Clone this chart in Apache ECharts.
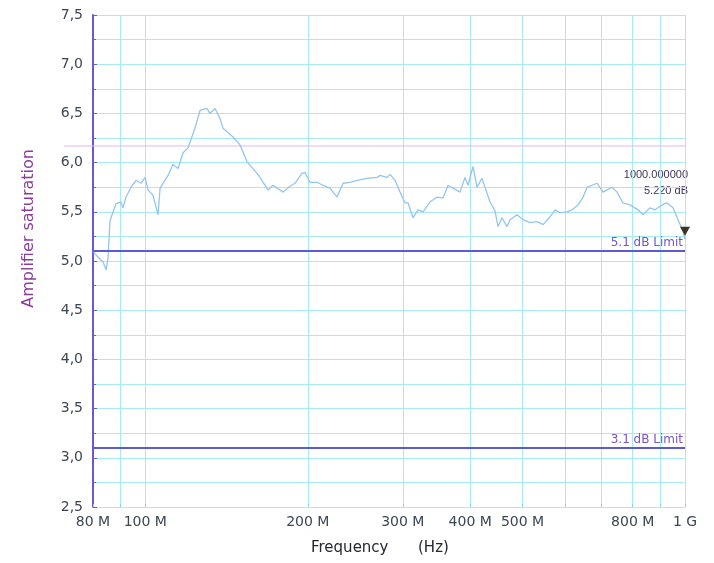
<!DOCTYPE html>
<html>
<head>
<meta charset="utf-8">
<script src="https://cdn.jsdelivr.net/npm/echarts@6/dist/echarts.min.js"></script>
<style>
  html, body { margin: 0; padding: 0; background: #fff; }
  #chart { width: 714px; height: 563px; }
</style>
</head>
<body>
<div id="chart"></div>
<script>
// frequency in MHz
var freqMHz = [
    80, 81.7, 83.5, 84.6, 85.3, 86.0, 86.4, 88.2, 90.1, 90.9, 92.1, 94.1, 96.1, 98.2, 99.9,
    101.2, 103.3, 105.6, 106.5, 110.2, 112.5, 115.0, 117.5, 120.0, 123.6, 126.3, 130.1, 131.8,
    134.6, 137.5, 139.3, 145.4, 149.8, 154.3, 161.1, 163.1, 168.8, 172.4, 180.0, 185.4, 189.4,
    195.1, 197.7, 201.9, 208.0, 213.5, 219.9, 226.6, 232.5, 239.6, 246.8, 257.6, 268.8, 272.2,
    280.5, 284.1, 290.2, 296.5, 302.9, 306.8, 313.4, 320.2, 327.1, 337.0, 347.2, 356.2, 363.9,
    371.6, 382.9, 391.2, 396.2, 404.8, 411.7, 420.6, 435.2, 444.6, 450.3, 458.1, 468.0, 474.1,
    488.4, 501.1, 516.3, 532.0, 545.8, 562.3, 574.5, 586.8, 604.7, 617.7, 633.8, 647.4, 658.6,
    672.8, 687.3, 704.8, 732.4, 748.2, 767.5, 790.9, 818.2, 835.9, 861.3, 879.8, 906.6, 926.2,
    950.2, 970.7, 991.7, 1000
];
var saturation = [
    5.10, 5.04, 4.99, 4.91, 5.03, 5.40, 5.44, 5.58, 5.60, 5.54, 5.65, 5.75, 5.82, 5.79, 5.85,
    5.72, 5.67, 5.47, 5.74, 5.87, 5.98, 5.94, 6.10, 6.15, 6.35, 6.53, 6.55, 6.50,
    6.55, 6.45, 6.35, 6.26, 6.18, 6.01, 5.89, 5.85, 5.72, 5.77, 5.70, 5.76, 5.79,
    5.89, 5.90, 5.80, 5.80, 5.77, 5.74, 5.65, 5.79, 5.80, 5.82, 5.84, 5.85, 5.87,
    5.85, 5.88, 5.82, 5.70, 5.59, 5.59, 5.44, 5.52, 5.50, 5.60, 5.65, 5.64, 5.77,
    5.74, 5.70, 5.85, 5.77, 5.96, 5.75, 5.84, 5.60, 5.51, 5.35, 5.44, 5.35, 5.42,
    5.47, 5.42, 5.39, 5.40, 5.37, 5.45, 5.52, 5.49, 5.50, 5.52, 5.57, 5.65, 5.75,
    5.77, 5.79, 5.70, 5.75, 5.70, 5.59, 5.57, 5.52, 5.47, 5.54, 5.52, 5.57, 5.59,
    5.54, 5.42, 5.30, 5.22
];
var gridFreqs = [80, 90, 100, 200, 300, 400, 500, 600, 700, 800, 900, 1000];
var labelFreqs = [80, 100, 200, 300, 400, 500, 800, 1000];
var limitValues = [5.1, 3.1];
var limitNames = ['5.1 dB Limit', '3.1 dB Limit'];
var markerFreq = 1000;
var markerValue = 5.22;
var markerText = ['1000.000000', '5.220 dB'];

var gridColor = '#a6eaf4';
var fontName = 'DejaVu Sans, Verdana, sans-serif';
var traceData = [];
for (var i = 0; i < freqMHz.length; i++) {
    traceData.push([freqMHz[i], saturation[i]]);
}

var dom = document.getElementById('chart');
var myChart = echarts.init(dom);
var option = null;
option = {
    animation: false,
    backgroundColor: '#fff',
    grid: {
        left: 93,
        right: 29,
        top: 15,
        bottom: 56
    },
    xAxis: {
        type: 'log',
        logBase: 10,
        min: 80,
        max: 1000,
        axisLine: {
            show: true,
            lineStyle: { color: gridColor, width: 1 }
        },
        axisTick: {
            show: true,
            inside: true,
            length: 3,
            customValues: gridFreqs,
            lineStyle: { color: '#7fd8ea' }
        },
        axisLabel: {
            customValues: labelFreqs,
            margin: 8,
            color: '#3c4652',
            fontFamily: fontName,
            fontSize: 14,
            formatter: function (v) {
                var r = Math.round(v);
                return r >= 1000 ? (r / 1000) + ' G' : r + ' M';
            }
        },
        splitLine: {
            show: true,
            lineStyle: { color: gridColor, width: 1 }
        },
        minorTick: { show: false },
        minorSplitLine: { show: false }
    },
    yAxis: {
        type: 'value',
        min: 2.5,
        max: 7.5,
        interval: 0.5,
        axisLine: {
            show: true,
            lineStyle: { color: '#6a5ad6', width: 2 }
        },
        axisTick: {
            show: true,
            inside: true,
            length: 4,
            lineStyle: { color: '#6a5ad6' }
        },
        minorTick: {
            show: true,
            splitNumber: 2,
            length: 3,
            lineStyle: { color: '#6a5ad6' }
        },
        axisLabel: {
            margin: 10,
            color: '#3c4652',
            fontFamily: fontName,
            fontSize: 14,
            formatter: function (v) {
                return v.toFixed(1).replace('.', ',');
            }
        },
        splitLine: {
            show: true,
            lineStyle: { color: gridColor, width: 1 }
        },
        minorSplitLine: {
            show: true,
            lineStyle: { color: gridColor, width: 1 }
        }
    },
    graphic: [
        {
            type: 'line',
            silent: true,
            z: 1,
            shape: { x1: 64, y1: 146, x2: 685, y2: 146 },
            style: { stroke: '#e6b4ee', lineWidth: 1 }
        },
        {
            type: 'text',
            left: 21,
            top: 149,
            rotation: Math.PI / 2,
            style: {
                text: 'Amplifier saturation',
                fill: '#8a3c9a',
                font: '16px ' + fontName
            }
        },
        {
            type: 'text',
            left: 311,
            top: 541,
            style: {
                text: 'Frequency',
                fill: '#202830',
                font: '15px ' + fontName
            }
        },
        {
            type: 'text',
            left: 418,
            top: 541,
            style: {
                text: '(Hz)',
                fill: '#202830',
                font: '15px ' + fontName
            }
        },
        {
            type: 'text',
            right: 26,
            top: 169,
            style: {
                text: markerText[0],
                fill: '#3e3258',
                font: '11px Liberation Sans, Arial, sans-serif'
            }
        },
        {
            type: 'text',
            right: 26,
            top: 185,
            style: {
                text: markerText[1],
                fill: '#3e3258',
                font: '11px Liberation Sans, Arial, sans-serif'
            }
        }
    ],
    series: [
        {
            name: 'trace',
            type: 'line',
            data: traceData,
            showSymbol: false,
            smooth: false,
            z: 3,
            lineStyle: { color: '#92c6ee', width: 1.3 },
            markLine: {
                silent: true,
                symbol: 'none',
                lineStyle: { color: '#5a5ad2', width: 2, type: 'solid' },
                label: {
                    show: true,
                    position: 'insideEndTop',
                    color: '#7456c8',
                    fontFamily: fontName,
                    fontSize: 12,
                    distance: 2
                },
                data: [
                    { yAxis: limitValues[0], label: { formatter: limitNames[0] } },
                    { yAxis: limitValues[1], label: { formatter: limitNames[1] } }
                ]
            },
            markPoint: {
                silent: true,
                symbol: 'triangle',
                symbolRotate: 180,
                symbolSize: [10, 9],
                symbolOffset: [0, -8],
                itemStyle: { color: '#3a3424' },
                label: { show: false },
                data: [{ coord: [markerFreq, markerValue] }]
            }
        }
    ]
};
if (option && typeof option === 'object') {
    myChart.setOption(option);
}
</script>
</body>
</html>
